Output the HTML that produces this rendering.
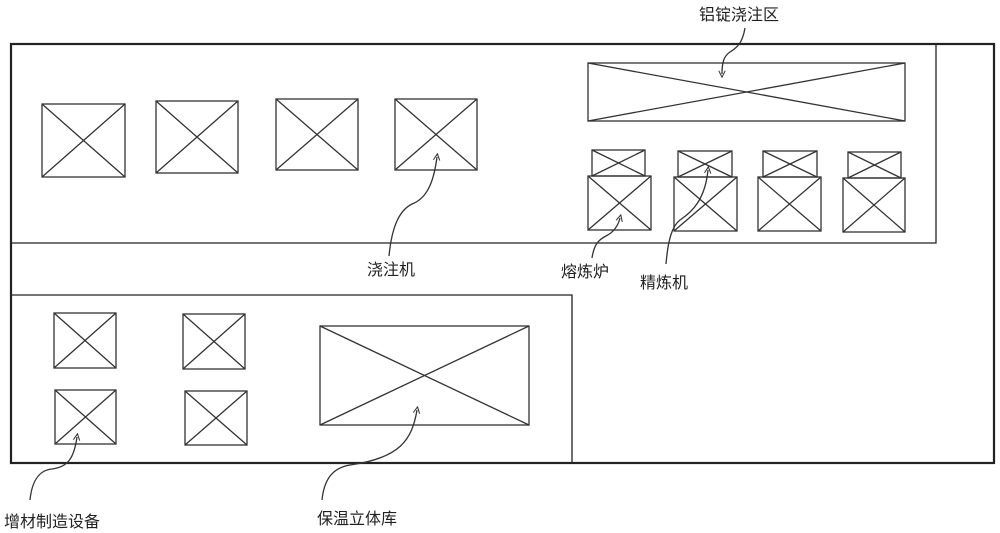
<!DOCTYPE html>
<html><head><meta charset="utf-8"><style>
html,body{margin:0;padding:0;background:#fff;}
svg{display:block}
text{font-family:"Liberation Sans","Noto Sans CJK SC",sans-serif;font-size:16px;fill:#222}
</style></head><body>
<svg width="1000" height="533" viewBox="0 0 1000 533" xmlns="http://www.w3.org/2000/svg">
<defs>
<marker id="a" viewBox="0 0 10 10" refX="5" refY="5" markerWidth="8" markerHeight="8" orient="auto-start-reverse" markerUnits="userSpaceOnUse">
<path d="M1,1 L9,5 L1,9" fill="none" stroke="#333" stroke-width="1.3"/>
</marker>
</defs>
<g fill="none" stroke="#222">
<rect x="11" y="44" width="983" height="419" stroke-width="2.2"/>
<path d="M11 243 H936 V44" stroke-width="1.3"/>
<path d="M11 295 H572 V463" stroke-width="1.3"/>
</g>
<g fill="none" stroke="#333" stroke-width="1.3">
<rect x="42" y="104" width="83" height="73"/><path d="M42 104L125 177M125 104L42 177"/>
<rect x="156" y="101" width="82" height="72"/><path d="M156 101L238 173M238 101L156 173"/>
<rect x="276" y="99" width="82" height="71"/><path d="M276 99L358 170M358 99L276 170"/>
<rect x="395" y="99" width="82" height="71"/><path d="M395 99L477 170M477 99L395 170"/>
<rect x="588" y="63" width="317" height="58"/><path d="M588 63L905 121M905 63L588 121"/>

<rect x="592" y="150" width="53" height="26"/><path d="M592 150L645 176M645 150L592 176"/>
<rect x="588" y="176" width="63" height="54"/><path d="M588 176L651 230M651 176L588 230"/>
<rect x="678" y="151" width="54" height="26"/><path d="M678 151L732 177M732 151L678 177"/>
<rect x="674" y="177" width="63" height="54"/><path d="M674 177L737 231M737 177L674 231"/>
<rect x="763" y="151" width="54" height="26"/><path d="M763 151L817 177M817 151L763 177"/>
<rect x="758" y="177" width="63" height="54"/><path d="M758 177L821 231M821 177L758 231"/>
<rect x="848" y="152" width="53" height="26"/><path d="M848 152L901 178M901 152L848 178"/>
<rect x="843" y="178" width="62" height="54"/><path d="M843 178L905 232M905 178L843 232"/>

<rect x="54" y="313" width="62" height="55"/><path d="M54 313L116 368M116 313L54 368"/>
<rect x="183" y="314" width="62" height="55"/><path d="M183 314L245 369M245 314L183 369"/>
<rect x="55" y="390" width="61" height="54"/><path d="M55 390L116 444M116 390L55 444"/>
<rect x="185" y="391" width="62" height="54"/><path d="M185 391L247 445M247 391L185 445"/>
<rect x="320" y="326" width="209" height="99"/><path d="M320 326L529 425M529 326L320 425"/>
</g>
<g fill="none" stroke="#333" stroke-width="1.3">
<path d="M745 28 C742 45 736 48 730 52 C724 56 722 62 722 74" marker-end="url(#a)"/>
<path d="M389 256 C392 225 400 210 412 204 C428 198 434 180 437 157" marker-end="url(#a)"/>
<path d="M592 258 C594 245 598 240 606 236 C614 232 618 226 620 218" marker-end="url(#a)"/>
<path d="M666 264 C668 240 672 226 680 220 C692 212 705 200 708 170" marker-end="url(#a)"/>
<path d="M30 500 C32 480 40 470 52 469 C68 467 74 458 77 437" marker-end="url(#a)"/>
<path d="M322 500 C324 480 332 468 350 465 C400 458 412 440 417 410" marker-end="url(#a)"/>
</g>
<text x="699" y="20">铝锭浇注区</text>
<text x="367" y="275">浇注机</text>
<text x="561" y="277">熔炼炉</text>
<text x="640" y="288">精炼机</text>
<text x="4" y="527">增材制造设备</text>
<text x="317" y="524">保温立体库</text>
</svg>
</body></html>
